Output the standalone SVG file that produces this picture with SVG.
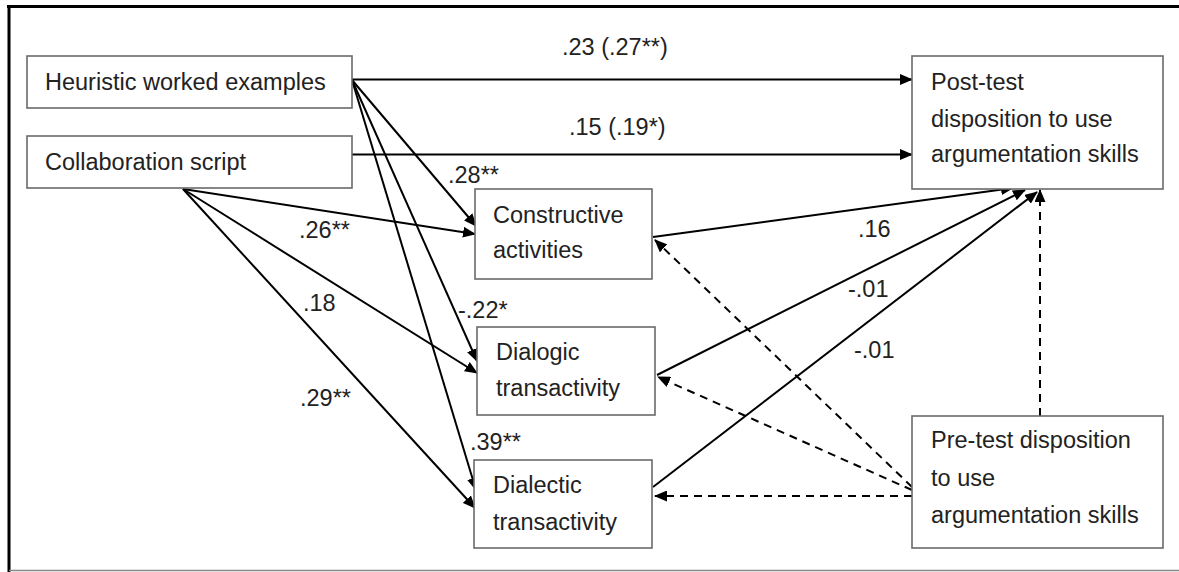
<svg xmlns="http://www.w3.org/2000/svg" width="1179" height="572" viewBox="0 0 1179 572">
<style>
.box{fill:#fff;stroke:#6a6a6a;stroke-width:1.6}
.t{font-family:"Liberation Sans",Arial,sans-serif;font-size:23.5px;fill:#222}
.c{stroke:#000;stroke-width:2;fill:none;marker-end:url(#ah)}
.d{stroke:#000;stroke-width:2;fill:none;stroke-dasharray:8 6;marker-end:url(#ah)}
</style>
<defs>
<marker id="ah" markerUnits="userSpaceOnUse" markerWidth="13" markerHeight="11" refX="12" refY="5.5" orient="auto">
<path d="M0,0 L13,5.5 L0,11 z" fill="#000"/>
</marker>
</defs>
<rect width="1179" height="572" fill="#fff"/>
<g id="frame">
<line x1="7" y1="6.5" x2="1179" y2="6.5" stroke="#000" stroke-width="3"/>
<line x1="9" y1="5" x2="9" y2="572" stroke="#000" stroke-width="3"/>
<line x1="9" y1="570.5" x2="1179" y2="570.5" stroke="#888" stroke-width="1.5"/>
</g>
<g id="connectors">
<line class="c" x1="352" y1="79.5" x2="912" y2="79.5"/>
<line class="c" x1="352" y1="154.5" x2="912" y2="154.5"/>
<line class="c" x1="352" y1="80" x2="476" y2="226"/>
<line class="c" x1="352" y1="80" x2="477" y2="361"/>
<line class="c" x1="352" y1="80" x2="476" y2="490"/>
<line class="c" x1="183" y1="189" x2="475" y2="234"/>
<line class="c" x1="183" y1="189" x2="477" y2="373"/>
<line class="c" x1="183" y1="189" x2="475" y2="508"/>
<line class="c" x1="653" y1="237" x2="1013" y2="188"/>
<line class="c" x1="657" y1="375" x2="1025" y2="190"/>
<line class="c" x1="653" y1="487" x2="1037" y2="192"/>
<line class="d" x1="912" y1="487" x2="655" y2="240"/>
<line class="d" x1="912" y1="490" x2="658" y2="377"/>
<line class="d" x1="912" y1="496" x2="655" y2="496"/>
<line class="d" x1="1040" y1="416" x2="1040" y2="190"/>
</g>
<g id="labels">
<text class="t" x="562" y="55">.23 (.27**)</text>
<text class="t" x="569" y="135">.15 (.19*)</text>
<text class="t" x="448" y="183">.28**</text>
<text class="t" x="299" y="238">.26**</text>
<text class="t" x="303" y="311">.18</text>
<text class="t" x="458" y="318">-.22*</text>
<text class="t" x="300" y="406">.29**</text>
<text class="t" x="470" y="450">.39**</text>
<text class="t" x="858" y="237">.16</text>
<text class="t" x="848" y="297">-.01</text>
<text class="t" x="854" y="358">-.01</text>
</g>
<g id="heuristic">
<rect class="box" x="27" y="56" width="325" height="52"/>
<text class="t" x="45" y="90">Heuristic worked examples</text>
</g>
<g id="collab">
<rect class="box" x="27" y="136" width="325" height="52"/>
<text class="t" x="45" y="170">Collaboration script</text>
</g>
<g id="posttest">
<rect class="box" x="912" y="56" width="251" height="133"/>
<text class="t" x="931" y="90">Post-test</text>
<text class="t" x="931" y="127">disposition to use</text>
<text class="t" x="931" y="162">argumentation skills</text>
</g>
<g id="constructive">
<rect class="box" x="475" y="189" width="177" height="90"/>
<text class="t" x="493" y="223">Constructive</text>
<text class="t" x="493" y="258">activities</text>
</g>
<g id="dialogic">
<rect class="box" x="477" y="327" width="178" height="88"/>
<text class="t" x="496" y="360">Dialogic</text>
<text class="t" x="496" y="396">transactivity</text>
</g>
<g id="dialectic">
<rect class="box" x="474" y="460" width="178" height="88"/>
<text class="t" x="493" y="493">Dialectic</text>
<text class="t" x="493" y="530">transactivity</text>
</g>
<g id="pretest">
<rect class="box" x="912" y="416" width="251" height="132"/>
<text class="t" x="931" y="448">Pre-test disposition</text>
<text class="t" x="931" y="486">to use</text>
<text class="t" x="931" y="523">argumentation skills</text>
</g>
</svg>
